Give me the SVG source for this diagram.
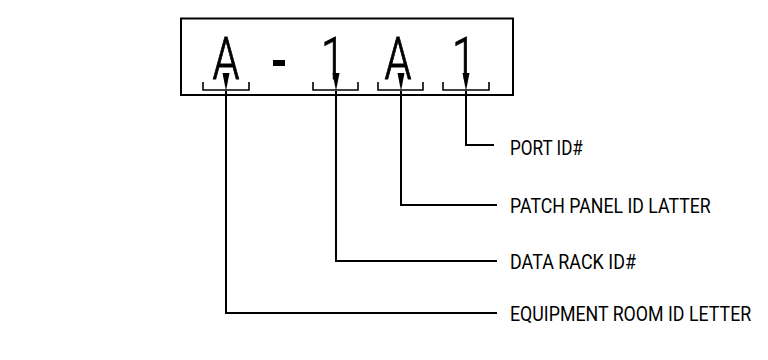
<svg xmlns="http://www.w3.org/2000/svg" width="768" height="360" viewBox="0 0 768 360">
<defs>
<style>
.big{font-family:Roboto,"Liberation Sans",sans-serif;font-size:60px;font-weight:300;fill:#000;stroke:#000;stroke-width:0.9;text-anchor:middle}
.lbl{font-family:Roboto,"Liberation Sans",sans-serif;font-size:21px;fill:#000}
.ln{fill:none;stroke:#000;stroke-width:2}
.br{fill:none;stroke:#000;stroke-width:1.6}
</style>
<marker id="ah" viewBox="0 0 18 8" refX="0" refY="4" markerWidth="18" markerHeight="8" markerUnits="userSpaceOnUse" orient="auto-start-reverse">
<path d="M0,4 L18,0.5 L18,7.5 Z" fill="#000"/>
</marker>
</defs>
<rect width="768" height="360" fill="#fff"/>
<g id="code-box">
<rect x="181" y="18.5" width="332" height="76.5" class="ln"/>
<text class="big" transform="translate(226,79) scale(0.72,1)">A</text>
<rect x="273" y="60" width="12" height="6" fill="#000"/>
<text class="big" transform="translate(333,79) scale(0.72,1)">1</text>
<text class="big" transform="translate(398,79) scale(0.72,1)">A</text>
<text class="big" transform="translate(464,79) scale(0.72,1)">1</text>
<path class="br" d="M203,82 V90 H249 V82"/>
<path class="br" d="M313,82 V90 H358 V82"/>
<path class="br" d="M378,82 V90 H423 V82"/>
<path class="br" d="M443,82 V90 H489 V82"/>
</g>
<g id="connectors">
<path class="ln" d="M226,91 V313 H497" marker-start="url(#ah)"/>
<path class="ln" d="M336,91 V261 H497" marker-start="url(#ah)"/>
<path class="ln" d="M401,91 V205 H497" marker-start="url(#ah)"/>
<path class="ln" d="M466,91 V145 H494" marker-start="url(#ah)"/>
</g>
<g id="label-port"><text class="lbl" transform="translate(510,155) scale(0.9,1)" textLength="81" lengthAdjust="spacingAndGlyphs">PORT ID#</text></g>
<g id="label-patch"><text class="lbl" transform="translate(510,213) scale(0.9,1)" textLength="223" lengthAdjust="spacingAndGlyphs">PATCH PANEL ID LATTER</text></g>
<g id="label-rack"><text class="lbl" transform="translate(510,269) scale(0.9,1)" textLength="140" lengthAdjust="spacingAndGlyphs">DATA RACK ID#</text></g>
<g id="label-room"><text class="lbl" transform="translate(510,321) scale(0.9,1)" textLength="268" lengthAdjust="spacingAndGlyphs">EQUIPMENT ROOM ID LETTER</text></g>
</svg>
